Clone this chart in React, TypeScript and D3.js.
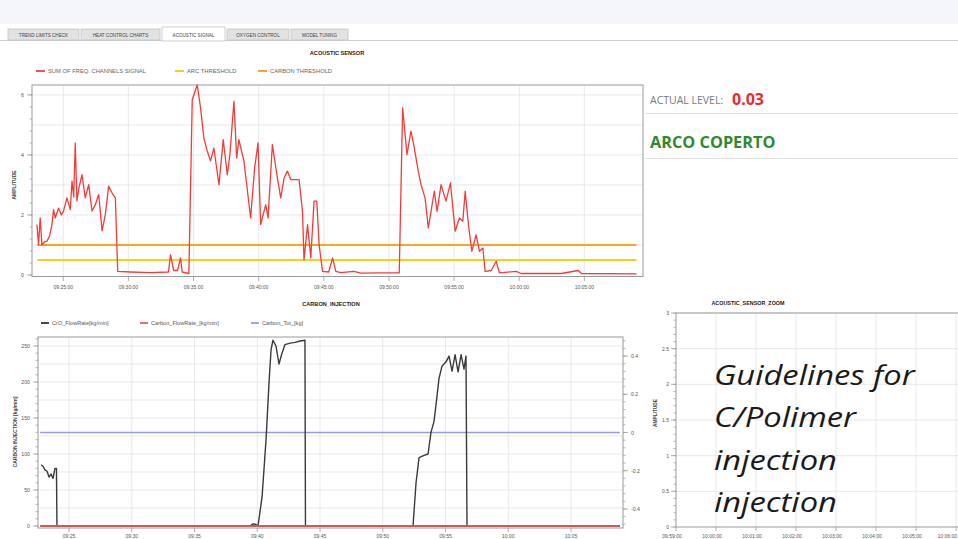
import React from "react";
import * as d3 from "d3";

// ---------- data ----------
const tabLabels = ["TREND LIMITS CHECK", "HEAT CONTROL CHARTS", "ACOUSTIC SIGNAL", "OXYGEN CONTROL", "MODEL TUNING"];
const activeTab = "ACOUSTIC SIGNAL";

const topTitle = "ACOUSTIC SENSOR";
const topLegend = ["SUM OF FREQ. CHANNELS SIGNAL", "ARC THRESHOLD", "CARBON THRESHOLD"];
const topYTicks = [0, 2, 4, 6];
const topXTickMin = [0, 5, 10, 15, 20, 25, 30, 35, 40];
const topXTickLabels = ["09:25:00", "09:30:00", "09:35:00", "09:40:00", "09:45:00", "09:50:00", "09:55:00", "10:00:00", "10:05:00"];

// minutes after 09:25:00
const acousticMin = [
  -2.02, -1.9, -1.77, -1.64, -1.45, -1.25, -1.05, -0.87, -0.75, -0.62, -0.36, -0.15, 0.02, 0.28, 0.54, 0.67, 0.8, 0.92, 1.05,
  1.2, 1.44, 1.69, 1.95, 2.21, 2.46, 2.72, 2.98, 3.23, 3.48, 3.75, 4.0, 4.18, 5.15, 6.69, 8.08, 8.23, 8.48, 8.77, 9.0, 9.13,
  9.64, 9.9, 10.28, 10.54, 10.79, 11.05, 11.31, 11.56, 11.95, 12.28, 12.59, 12.79, 13.1, 13.31, 13.48, 13.87, 14.38, 14.69,
  14.95, 15.15, 15.54, 15.72, 16.05, 16.44, 16.69, 16.95, 17.21, 17.46, 18.1, 18.36, 18.48, 18.75, 19.0, 19.25, 19.46, 19.64,
  19.9, 20.38, 20.67, 20.92, 21.31, 22.31, 22.85, 24.38, 25.79, 26.05, 26.38, 26.69, 26.9, 27.25, 27.46, 27.77, 28.02, 28.23,
  28.48, 28.69, 29.0, 29.38, 29.72, 30.08, 30.41, 30.67, 30.85, 31.1, 31.36, 31.69, 31.95, 32.21, 32.38, 32.85, 33.23, 33.48,
  34.77, 35.15, 38.23, 39.52, 39.77, 44.0,
];
const acousticVal = [
  1.68, 1.01, 1.9, 1.0, 1.1, 1.13, 1.3, 1.68, 2.18, 1.9, 2.23, 2.0, 2.13, 2.57, 2.18, 3.13, 2.6, 4.4, 2.47,
  2.9, 3.34, 2.57, 3.01, 2.13, 2.34, 2.68, 1.47, 2.01, 2.96, 2.73, 2.57, 0.12, 0.1, 0.08, 0.1, 0.68, 0.15, 0.15, 0.57, 0.1,
  0.05, 5.84, 6.34, 5.57, 4.57, 4.13, 3.8, 4.23, 3.01, 4.51, 3.34, 4.01, 5.79, 3.9, 4.51, 3.79, 1.9, 3.57,
  4.4, 1.68, 2.34, 1.9, 4.34, 3.23, 2.57, 3.23, 3.46, 3.18, 3.18, 2.13, 0.51, 1.68, 0.57, 2.46, 2.46, 1.01,
  0.12, 0.1, 0.57, 0.12, 0.08, 0.12, 0.06, 0.07, 0.07, 5.57, 4.01, 4.79, 4.34, 3.46, 3.01, 2.57, 1.57, 2.12,
  2.79, 2.12, 3.01, 2.46, 3.07, 1.46, 1.9, 1.79, 2.79, 1.68, 0.79, 1.34, 0.79, 0.9, 0.12, 0.15, 0.46, 0.07,
  0.12, 0.05, 0.05, 0.15, 0.05, 0.04,
];
const thresholdMin = [-2.0, 44.0];
const arcThreshold = [0.5, 0.5];
const carbonThreshold = [1.0, 1.0];

const panelLevelLabel = "ACTUAL LEVEL:";
const panelLevelValue = "0.03";
const panelStatus = "ARCO COPERTO";

const botTitle = "CARBON_INJECTION";
const botLegend = ["CrO_FlowRate[kg/min]", "Carbon_FlowRate_[kg/min]", "Carbon_Tot_[kg]"];
const botLeftTicks = [0, 50, 100, 150, 200, 250];
const botRightTicks = [-0.4, -0.2, 0, 0.2, 0.4];
const botXTickMin = [0, 5, 10, 15, 20, 25, 30, 35, 40];
const botXTickLabels = ["09:25", "09:30", "09:35", "09:40", "09:45", "09:50", "09:55", "10:00", "10:05"];

const coMin = [
  -2.23, -2.07, -1.91, -1.75, -1.59, -1.43, -1.27, -1.12, -1.0, -0.96, 14.42, 14.66, 14.9, 15.06, 15.38, 15.7, 15.94, 16.1,
  16.25, 16.49, 16.73, 16.97, 17.21, 17.61, 18.01, 18.41, 18.8, 18.84, 27.41, 27.65, 27.89, 28.29, 28.61, 28.84, 29.08,
  29.32, 29.48, 29.72, 30.04, 30.28, 30.52, 30.76, 31.0, 31.24, 31.47, 31.63, 31.71, 43.9,
];
const coVal = [
  85, 83, 78, 76, 68, 72, 66, 80, 80, 0, 0, 3, 2, 0, 40, 120, 200, 245,
  258, 250, 225, 240, 252, 254, 255, 257, 258, 0, 0, 60, 95, 98, 100, 130, 145,
  180, 205, 222, 228, 236, 215, 238, 214, 238, 218, 236, 0, 0,
];
const carbonFlowMin = [-2.3, 43.9];
const carbonFlowVal = [0, 0];
const carbonTotMin = [-2.3, 43.9];
const carbonTotVal = [0, 0];

const zoomTitle = "ACOUSTIC_SENSOR_ZOOM";
const zoomYTicks = [0, 0.5, 1, 1.5, 2, 2.5, 3];
const zoomXTickLabels = ["09:59:00", "10:00:00", "10:01:00", "10:02:00", "10:03:00", "10:04:00", "10:05:00", "10:06:00"];
const zoomXTickIdx = [0, 1, 2, 3, 4, 5, 6, 7];
const noteLines = ["Guidelines for", "C/Polimer", "injection", "injection"];

// ---------- component ----------
const SMALL = "'Liberation Sans', Arial, sans-serif";
const GRID = "#e3e3e3";
const AXIS = "#9a9a9a";

export default function App() {
  // top chart
  const xTop = d3.scaleLinear().domain([-2.4, 44.5]).range([32, 643]);
  const yTop = d3.scaleLinear().domain([-0.05, 6.33]).range([276.5, 85]);
  const sigPath = d3.line<number>().x((_, i) => xTop(acousticMin[i])).y((d) => yTop(d))(acousticVal) || "";
  const arcPath = d3.line<number>().x((_, i) => xTop(thresholdMin[i])).y((d) => yTop(d))(arcThreshold) || "";
  const carbPath = d3.line<number>().x((_, i) => xTop(thresholdMin[i])).y((d) => yTop(d))(carbonThreshold) || "";
  const topMinor = d3.range(0, 6.33, 0.4);
  const topGridY = d3.range(1, 7, 1);

  // bottom chart
  const xBot = d3.scaleLinear().domain([-2.47, 44.14]).range([38, 623]);
  const yBotL = d3.scaleLinear().domain([-2.8, 262.5]).range([528, 337]);
  const yBotR = d3.scaleLinear().domain([-0.5, 0.5]).range([528, 337]);
  const coPath = d3.line<number>().x((_, i) => xBot(coMin[i])).y((d) => yBotL(d))(coVal) || "";
  const cfPath = d3.line<number>().x((_, i) => xBot(carbonFlowMin[i])).y((d) => yBotL(d))(carbonFlowVal) || "";
  const ctPath = d3.line<number>().x((_, i) => xBot(carbonTotMin[i])).y((d) => yBotR(d))(carbonTotVal) || "";
  const botGridY = d3.range(25, 262, 25);
  const botMinorL = d3.range(0, 262, 10);
  const botMinorR = d3.range(-0.48, 0.5, 0.04);

  // zoom chart
  const xZoom = d3.scaleLinear().domain([0, 7]).range([676, 956]);
  const yZoom = d3.scaleLinear().domain([0, 3]).range([527, 313]);
  const zoomMinor = d3.range(0, 3.01, 0.1);

  const tabX = [8, 81, 162, 227, 291];
  const tabW = [71, 79, 63, 62, 57];

  return (
    <svg width={958} height={539} style={{ position: "absolute", left: 0, top: 0, background: "#fff" }}>
      <rect x={0} y={0} width={958} height={539} fill="#fff" />
      {/* top band */}
      <rect x={0} y={0} width={958} height={24} fill="#f3f5f9" />
      {/* tabs */}
      <line x1={0} x2={958} y1={40.5} y2={40.5} stroke="#cfcfcf" />
      {tabLabels.map((t, i) => (
        <g key={t}>
          <rect x={tabX[i]} y={t === activeTab ? 27 : 29} width={tabW[i]} height={t === activeTab ? 14 : 11}
            fill={t === activeTab ? "#fff" : "#e2e2e2"} stroke="#c4c4c4" strokeWidth={0.8} />
          <text x={tabX[i] + tabW[i] / 2} y={37} textAnchor="middle" fontFamily={SMALL} fontSize={4.6} fill="#444">{t}</text>
        </g>
      ))}

      {/* ===== top chart ===== */}
      <text x={337} y={55} textAnchor="middle" fontFamily={SMALL} fontSize={5.6} fontWeight="bold" fill="#222">{topTitle}</text>
      {[0, 1, 2].map((i) => {
        const lx = [36, 175, 258][i];
        const col = ["#f0506a", "#f2d21b", "#f5a623"][i];
        return (
          <g key={i}>
            <line x1={lx} x2={lx + 9} y1={71} y2={71} stroke={col} strokeWidth={2} />
            <text x={lx + 12} y={73} fontFamily={SMALL} fontSize={5.8} fill="#666">{topLegend[i]}</text>
          </g>
        );
      })}
      {topGridY.map((v) => (
        <line key={v} x1={32} x2={643} y1={yTop(v)} y2={yTop(v)} stroke={GRID} strokeWidth={0.8} />
      ))}
      {topXTickMin.map((m) => (
        <line key={m} x1={xTop(m)} x2={xTop(m)} y1={85} y2={276.5} stroke={GRID} strokeWidth={0.8} />
      ))}
      <path d={arcPath} fill="none" stroke="#f2d21b" strokeWidth={2} />
      <path d={carbPath} fill="none" stroke="#f5a623" strokeWidth={2} />
      <path d={sigPath} fill="none" stroke="#f23c3c" strokeWidth={1.3} strokeLinejoin="round" />
      <rect x={32} y={85} width={611} height={191.5} fill="none" stroke={AXIS} strokeWidth={1} />
      {topMinor.map((v) => (
        <line key={v} x1={29.5} x2={32} y1={yTop(v)} y2={yTop(v)} stroke={AXIS} strokeWidth={0.7} />
      ))}
      {topYTicks.map((v) => (
        <g key={v}>
          <line x1={27} x2={32} y1={yTop(v)} y2={yTop(v)} stroke={AXIS} strokeWidth={0.8} />
          <text x={24} y={yTop(v) + 2} textAnchor="end" fontFamily={SMALL} fontSize={5.2} fill="#555">{v}</text>
        </g>
      ))}
      <text transform="translate(16,185) rotate(-90)" textAnchor="middle" fontFamily={SMALL} fontSize={5} fontWeight="bold" fill="#444">AMPLITUDE</text>
      {topXTickMin.map((m, i) => (
        <g key={m}>
          <line x1={xTop(m)} x2={xTop(m)} y1={276.5} y2={281} stroke={AXIS} strokeWidth={0.8} />
          <text x={xTop(m)} y={289} textAnchor="middle" fontFamily={SMALL} fontSize={5} fill="#555">{topXTickLabels[i]}</text>
        </g>
      ))}

      {/* ===== right panel ===== */}
      <text x={650} y={104} fontFamily="'Open Sans', sans-serif" fontSize={10.5} fill="#7a7a7a">{panelLevelLabel}</text>
      <text x={732} y={105} fontFamily="'Open Sans', sans-serif" fontSize={16} fontWeight="bold" fill="#ec2a2f">{panelLevelValue}</text>
      <line x1={645} x2={958} y1={113.5} y2={113.5} stroke="#e2e2e2" />
      <text x={650} y={147.5} fontFamily="'Open Sans', sans-serif" fontSize={16.3} fontWeight="bold" fill="#2f8a2f">{panelStatus}</text>
      <line x1={645} x2={958} y1={158.5} y2={158.5} stroke="#e2e2e2" />

      {/* ===== bottom chart ===== */}
      <text x={331} y={306} textAnchor="middle" fontFamily={SMALL} fontSize={5.6} fontWeight="bold" fill="#222">{botTitle}</text>
      {[0, 1, 2].map((i) => {
        const lx = [41, 140, 251][i];
        const col = ["#333333", "#e06070", "#9a9ae6"][i];
        return (
          <g key={i}>
            <line x1={lx} x2={lx + 8} y1={323} y2={323} stroke={col} strokeWidth={1.8} />
            <text x={lx + 11} y={325} fontFamily={SMALL} fontSize={5.6} fill="#555">{botLegend[i]}</text>
          </g>
        );
      })}
      {botGridY.map((v) => (
        <line key={v} x1={38} x2={623} y1={yBotL(v)} y2={yBotL(v)} stroke={GRID} strokeWidth={0.8} />
      ))}
      {botXTickMin.map((m) => (
        <line key={m} x1={xBot(m)} x2={xBot(m)} y1={337} y2={528} stroke={GRID} strokeWidth={0.8} />
      ))}
      <path d={ctPath} fill="none" stroke="#9a9ae6" strokeWidth={1.4} />
      <path d={coPath} fill="none" stroke="#3a3a3a" strokeWidth={1.4} strokeLinejoin="round" />
      <path d={cfPath} fill="none" stroke="#c85a5a" strokeWidth={2.2} />
      <rect x={38} y={337} width={585} height={191} fill="none" stroke={AXIS} strokeWidth={1} />
      {botMinorL.map((v) => (
        <line key={v} x1={35.5} x2={38} y1={yBotL(v)} y2={yBotL(v)} stroke={AXIS} strokeWidth={0.7} />
      ))}
      {botLeftTicks.map((v) => (
        <g key={v}>
          <line x1={33} x2={38} y1={yBotL(v)} y2={yBotL(v)} stroke={AXIS} strokeWidth={0.8} />
          <text x={30} y={yBotL(v) + 2} textAnchor="end" fontFamily={SMALL} fontSize={5.2} fill="#555">{v}</text>
        </g>
      ))}
      {botMinorR.map((v) => (
        <line key={v} x1={623} x2={625.5} y1={yBotR(v)} y2={yBotR(v)} stroke={AXIS} strokeWidth={0.7} />
      ))}
      {botRightTicks.map((v) => (
        <g key={v}>
          <line x1={623} x2={628} y1={yBotR(v)} y2={yBotR(v)} stroke={AXIS} strokeWidth={0.8} />
          <text x={631} y={yBotR(v) + 2} fontFamily={SMALL} fontSize={5.2} fill="#555">{v === 0 ? "0" : String(v)}</text>
        </g>
      ))}
      <text transform="translate(17,432) rotate(-90)" textAnchor="middle" fontFamily={SMALL} fontSize={5} fontWeight="bold" fill="#444">CARBON INJECTION [kg/min]</text>
      {botXTickMin.map((m, i) => (
        <g key={m}>
          <line x1={xBot(m)} x2={xBot(m)} y1={528} y2={532} stroke={AXIS} strokeWidth={0.8} />
          <text x={xBot(m)} y={538} textAnchor="middle" fontFamily={SMALL} fontSize={5} fill="#555">{botXTickLabels[i]}</text>
        </g>
      ))}

      {/* ===== zoom chart ===== */}
      <text x={748} y={305} textAnchor="middle" fontFamily={SMALL} fontSize={5.4} fontWeight="bold" fill="#222">{zoomTitle}</text>
      {zoomYTicks.slice(1).map((v) => (
        <line key={v} x1={676} x2={958} y1={yZoom(v)} y2={yZoom(v)} stroke={GRID} strokeWidth={0.8} />
      ))}
      {zoomXTickIdx.slice(1).map((k) => (
        <line key={k} x1={xZoom(k)} x2={xZoom(k)} y1={313} y2={527} stroke={GRID} strokeWidth={0.8} />
      ))}
      <line x1={676} x2={958} y1={313} y2={313} stroke={AXIS} />
      <line x1={676} x2={676} y1={313} y2={527} stroke={AXIS} />
      <line x1={676} x2={958} y1={527} y2={527} stroke={AXIS} />
      {zoomMinor.map((v) => (
        <line key={v} x1={673.5} x2={676} y1={yZoom(v)} y2={yZoom(v)} stroke={AXIS} strokeWidth={0.7} />
      ))}
      {zoomYTicks.map((v) => (
        <g key={v}>
          <line x1={671} x2={676} y1={yZoom(v)} y2={yZoom(v)} stroke={AXIS} strokeWidth={0.8} />
          <text x={669} y={yZoom(v) + 2} textAnchor="end" fontFamily={SMALL} fontSize={5} fill="#555">{v}</text>
        </g>
      ))}
      <text transform="translate(657,413) rotate(-90)" textAnchor="middle" fontFamily={SMALL} fontSize={4.8} fontWeight="bold" fill="#444">AMPLITUDE</text>
      {zoomXTickIdx.map((k, i) => (
        <g key={k}>
          <line x1={xZoom(k)} x2={xZoom(k)} y1={527} y2={531} stroke={AXIS} strokeWidth={0.8} />
          <text x={i === zoomXTickIdx.length - 1 ? 957 : xZoom(k) - 4} y={538}
            textAnchor={i === zoomXTickIdx.length - 1 ? "end" : "middle"} fontFamily={SMALL} fontSize={5} fill="#555">{zoomXTickLabels[i]}</text>
        </g>
      ))}
      <g transform="translate(714,0) scale(1.17,1)">
        {noteLines.map((t, i) => (
          <text key={i} x={0} y={385 + i * 42.3} fontFamily="'Open Sans', sans-serif" fontStyle="italic" fontSize={28} fill="#1a1a1a">{t}</text>
        ))}
      </g>
    </svg>
  );
}
